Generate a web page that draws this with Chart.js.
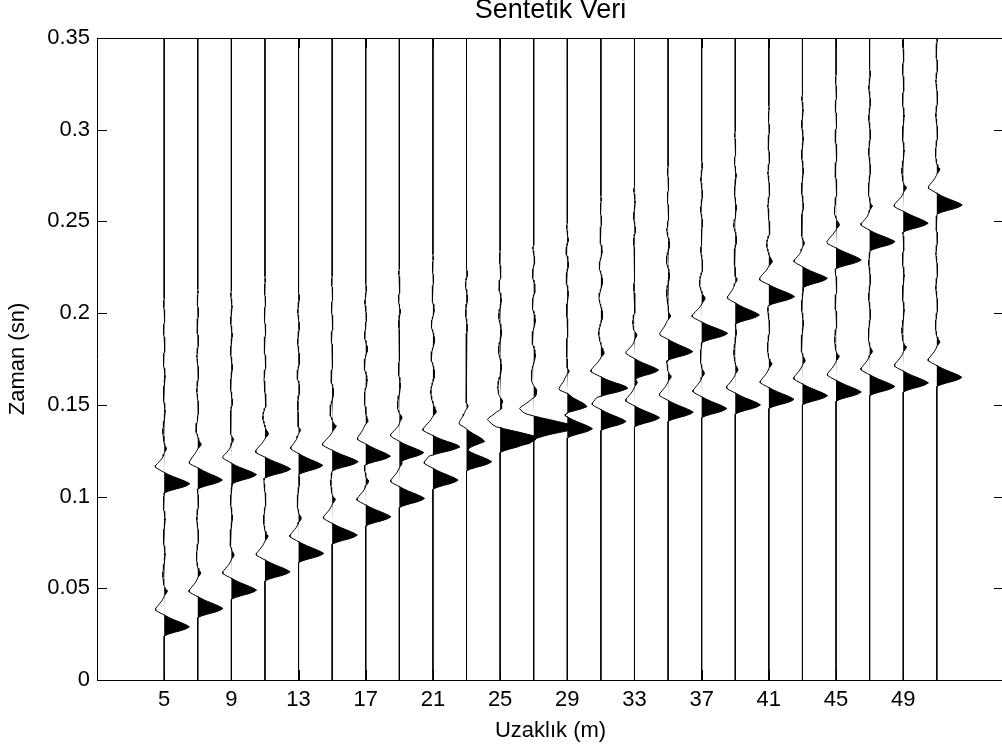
<!DOCTYPE html>
<html>
<head>
<meta charset="utf-8">
<script src="https://cdn.jsdelivr.net/npm/chart.js@4.4.1/dist/chart.umd.min.js"></script>
<style>
  html, body { margin: 0; padding: 0; background: #fff; overflow: hidden; width: 1002px; height: 749px; }
  canvas { display: block; }
</style>
</head>
<body>
<canvas id="c" width="1010" height="749"></canvas>
<script>
// Receiver offsets (m)
const offsets = [5, 7, 9, 11, 13, 15, 17, 19, 21, 23, 25, 27, 29, 31, 33, 35, 37, 39, 41, 43, 45, 47, 49, 51];
// Peak times of the direct arrival on each trace (ms)
const directMs = [29, 39, 49, 59, 69, 79, 89, 99, 109, 119, 129, 139, 149, 159, 169, 179, 189, 199, 209, 219, 229, 239, 249, 259];
// Peak times of the reflected arrival on each trace (ms)
const reflectMs = [107, 109, 112, 115, 117, 119, 122, 124, 127, 130, 133, 136, 137, 141, 143, 146, 148, 150, 153, 155, 157, 160, 162, 165];
// Source wavelet, 1 ms samples starting 5 ms before the peak
const waveletStartMs = -5;
const wavelet = [
  0, 0.16, 0.40, 0.68, 0.88, 1.00, 0.88, 0.72, 0.54, 0.36,
  0.20, 0.06, -0.08, -0.22, -0.34, -0.34, -0.28, -0.22, -0.16, -0.10,
  -0.06, -0.02, 0.01, 0.07, 0.11, 0.09, 0.04, 0.01, -0.01, -0.02,
  -0.03, -0.04, -0.05, -0.05, -0.05, -0.05, -0.04, -0.03, -0.02, -0.01,
  0.00, 0.01, 0.02, 0.03, 0.035, 0.035, 0.03, 0.02, 0.01, 0.00,
  -0.01, -0.02, -0.03, -0.035, -0.04, -0.035, -0.03, -0.02, -0.01, 0.00,
  0.01, 0.02, 0.03, 0.035, 0.035, 0.03, 0.02, 0.01, 0.00, -0.01,
  -0.02, -0.03, -0.035, -0.035, -0.03, -0.02, -0.01, 0.00, 0.01, 0.02,
  0.03, 0.03, 0.03, 0.02, 0.01, 0.00, -0.01, -0.02, -0.03, -0.03,
  -0.03, -0.02, -0.01, 0.00, 0.01, 0.02, 0.025, 0.025, 0.02, 0.01,
  0.00, -0.01, -0.02, -0.02, -0.02, -0.01, 0.00, 0.01, 0.01, 0.005,
  0
];
const recordLengthMs = 350;
const traceGain = 1.5;

const xTicks = [5, 9, 13, 17, 21, 25, 29, 33, 37, 41, 45, 49];
const xTickLabels = ['5', '9', '13', '17', '21', '25', '29', '33', '37', '41', '45', '49'];
const yTicks = [0, 0.05, 0.1, 0.15, 0.2, 0.25, 0.3, 0.35];
const yTickLabels = ['0', '0.05', '0.1', '0.15', '0.2', '0.25', '0.3', '0.35'];

const FONT = "'Liberation Sans', Arial, Helvetica, sans-serif";

// Sum both arrivals into one trace sampled every millisecond
function traceAmplitude(k) {
  const amp = new Array(recordLengthMs + 1).fill(0);
  [directMs[k], reflectMs[k]].forEach(t0 => {
    wavelet.forEach((w, j) => {
      const i = t0 + waveletStartMs + j;
      if (i >= 0 && i <= recordLengthMs) amp[i] += w;
    });
  });
  return amp;
}

const datasets = [];
offsets.forEach((x0, k) => {
  const amp = traceAmplitude(k);
  const wiggle = [];
  const positive = [];
  for (let i = recordLengthMs; i >= 0; i--) {
    const t = i / 1000;
    wiggle.push({ x: x0 + traceGain * amp[i], y: t });
    positive.push({ x: x0 + traceGain * Math.max(amp[i], 0), y: t });
  }
  // shaded positive lobes
  datasets.push({
    data: positive, fill: { value: x0 }, backgroundColor: '#000',
    borderColor: 'rgba(0,0,0,0)', borderWidth: 0, pointRadius: 0, order: 2
  });
  // wiggle line
  datasets.push({
    data: wiggle, fill: false, borderColor: '#000', borderWidth: 1,
    pointRadius: 0, order: 1
  });
});

// Axes box with inward tick marks on all four sides
const boxAndTicks = {
  id: 'boxAndTicks',
  afterDatasetsDraw(chart) {
    const { ctx, chartArea: a, scales: { x, y } } = chart;
    ctx.save();
    ctx.strokeStyle = '#000';
    ctx.lineWidth = 1;
    ctx.beginPath();
    ctx.rect(a.left + 0.5, a.top + 0.5, a.right - a.left, a.bottom - a.top);
    const len = 10;
    xTicks.forEach(v => {
      const p = Math.round(x.getPixelForValue(v)) + 0.5;
      ctx.moveTo(p, a.bottom); ctx.lineTo(p, a.bottom - len);
      ctx.moveTo(p, a.top); ctx.lineTo(p, a.top + len);
    });
    yTicks.forEach(v => {
      const p = Math.round(y.getPixelForValue(v)) + 0.5;
      ctx.moveTo(a.left, p); ctx.lineTo(a.left + len, p);
      ctx.moveTo(a.right, p); ctx.lineTo(a.right - len, p);
    });
    ctx.stroke();
    ctx.restore();
  }
};

new Chart(document.getElementById('c'), {
  type: 'line',
  data: { datasets },
  plugins: [boxAndTicks],
  options: {
    indexAxis: 'y',
    responsive: false,
    animation: false,
    devicePixelRatio: 1,
    layout: { padding: { left: 0, right: 6, top: 0, bottom: 0 } },
    plugins: {
      legend: { display: false },
      tooltip: { enabled: false },
      title: {
        display: true, text: 'Sentetik Veri', fullSize: false, color: '#000',
        font: { family: FONT, size: 27, weight: 'normal', lineHeight: 1 },
        padding: { top: -3, bottom: 14 }
      }
    },
    elements: { line: { tension: 0 } },
    scales: {
      x: {
        type: 'linear', position: 'bottom', min: 1, max: 55,
        grid: { display: false, drawTicks: false }, border: { display: false },
        afterBuildTicks: s => { s.ticks = xTicks.map(v => ({ value: v })); },
        afterFit: s => { s.height = 69; },
        ticks: {
          color: '#000', padding: 7, autoSkip: false, maxRotation: 0,
          font: { family: FONT, size: 22, lineHeight: 1.2 },
          callback: (v, i) => xTickLabels[i]
        },
        title: {
          display: true, text: 'Uzaklık (m)', color: '#000',
          font: { family: FONT, size: 22, lineHeight: 1.2 },
          padding: { top: 0, bottom: 5 }
        }
      },
      y: {
        type: 'linear', position: 'left', min: 0, max: 0.35,
        grid: { display: false, drawTicks: false }, border: { display: false },
        afterBuildTicks: s => { s.ticks = yTicks.map(v => ({ value: v })); },
        afterFit: s => { s.width = 97; },
        ticks: {
          color: '#000', padding: 7, autoSkip: false,
          font: { family: FONT, size: 22, lineHeight: 1.2 },
          callback: (v, i) => yTickLabels[i]
        },
        title: {
          display: true, text: 'Zaman (sn)', color: '#000',
          font: { family: FONT, size: 22, lineHeight: 1.2 },
          padding: { top: 5, bottom: 0 }
        }
      }
    }
  }
});
</script>
</body>
</html>
